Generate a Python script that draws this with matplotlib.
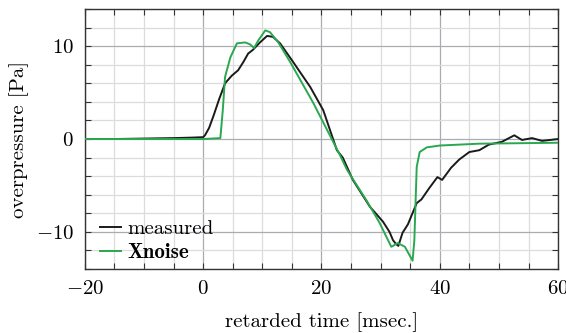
import numpy as np
import matplotlib
matplotlib.use("Agg")
import matplotlib.pyplot as plt
from matplotlib.ticker import MultipleLocator

plt.rcParams['font.family'] = 'serif'
plt.rcParams['font.serif'] = ['cmr10']
plt.rcParams['mathtext.fontset'] = 'cm'
plt.rcParams['axes.formatter.use_mathtext'] = True
plt.rcParams['font.size'] = 15

# measured signal
meas_t = [-20, -15, -10, -5, -2, 0, 0.3, 1.0, 1.8, 2.7, 3.7, 4.8, 5.9, 6.8, 7.6, 8.4, 9.6, 10.8, 11.8,
          13.0, 15.2, 18.1, 20.3, 22.6, 23.6, 25.3, 28.2, 30.4, 31.5, 32.1, 32.6, 33.0, 33.7, 34.6, 36.1,
          36.9, 38.2, 39.6, 40.4, 41.9, 43.3, 45.0, 46.7, 48.3, 50.5, 52.6, 53.9, 55.6, 57.3, 60]
meas_p = [0.0, 0.0, 0.05, 0.1, 0.15, 0.2, 0.4, 1.2, 2.6, 4.3, 6.0, 6.8, 7.4, 8.3, 9.2, 9.6, 10.4, 11.1, 11.0,
          10.3, 8.3, 5.6, 3.1, -1.2, -2.0, -4.4, -7.3, -8.9, -10.0, -10.9, -11.3, -11.5, -10.1, -9.2, -6.9,
          -6.5, -5.3, -4.1, -4.4, -3.1, -2.2, -1.4, -1.2, -0.6, -0.3, 0.4, -0.1, 0.1, -0.2, 0.0]

# Xnoise model
xn_t = [-20, 0, 2.9, 3.3, 3.7, 4.6, 5.7, 7.1, 7.9, 8.6, 9.3, 10.5, 11.3, 12.7, 14.7, 18.6, 23.1,
        24.3, 27.6, 29.8, 31.8, 32.1, 32.9, 34.1, 35.4, 35.7, 36.1, 36.6, 37.8, 40, 46.7, 60]
xn_p = [0.0, 0.0, 0.1, 3.0, 6.7, 8.8, 10.3, 10.4, 10.2, 9.8, 10.6, 11.7, 11.5, 10.4, 8.3, 3.9, -1.7,
        -3.3, -6.6, -9.0, -11.6, -11.5, -11.2, -11.6, -13.1, -10.9, -3.0, -1.4, -0.9, -0.7, -0.5, -0.4]

fig = plt.figure(figsize=(5.66, 3.33), dpi=100)
ax = fig.add_axes([0.150, 0.192, 0.836, 0.781])

ax.plot(meas_t, meas_p, color='#1a1a1a', lw=1.4, label='measured', zorder=3)
ax.plot(xn_t, xn_p, color='#2aa84f', lw=1.4, label='Xnoise', zorder=3)

ax.set_xlim(-20, 60)
ax.set_ylim(-14, 14)
ax.xaxis.set_major_locator(MultipleLocator(20))
ax.xaxis.set_minor_locator(MultipleLocator(5))
ax.yaxis.set_major_locator(MultipleLocator(10))
ax.yaxis.set_minor_locator(MultipleLocator(2))
ax.grid(which='major', color='#a9adb3', lw=0.9)
ax.grid(which='minor', color='#dcdcdc', lw=0.9)
ax.set_axisbelow(True)
ax.tick_params(which='both', direction='in', top=True, right=True, length=4, width=0.8, color='#333333')
ax.tick_params(which='major', pad=8)
for s in ax.spines.values():
    s.set_linewidth(1.0)
    s.set_color('#333333')

ax.set_xlabel('retarded time [msec.]', labelpad=10)
ax.set_ylabel('overpressure [Pa]', labelpad=5)

leg = ax.legend(loc='lower left', bbox_to_anchor=(0.028, 0.018), frameon=False,
                handlelength=1.0, handletextpad=0.3, labelspacing=0.25,
                borderpad=0.1, borderaxespad=0, fontsize=15)
leg.get_texts()[1].set_fontfamily('cmb10')

fig.savefig('out.png', dpi=100)
